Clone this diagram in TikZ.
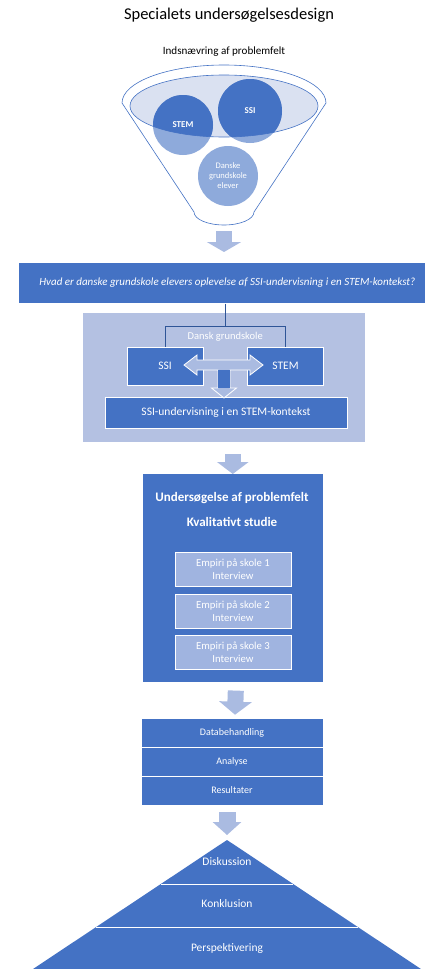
\documentclass[tikz,border=0pt]{standalone}
\usepackage{fontspec}
\setmainfont{Carlito}
\usetikzlibrary{calc,arrows.meta}
\definecolor{accblue}{RGB}{68,114,196}
\definecolor{paleblue}{RGB}{180,193,226}
\definecolor{arrowblue}{RGB}{170,187,225}
\definecolor{cellblue}{RGB}{160,180,224}
\definecolor{rimblue}{RGB}{218,225,241}
\definecolor{linkblue}{RGB}{47,85,151}

\begin{document}
\begin{tikzpicture}[x=1pt,y=-1pt]
  \tikzstyle{mybox}=[draw=white, fill=accblue, text=white, inner sep=0pt, line width=0.6pt, font=\fontsize{11.5}{13.5}\selectfont];
  \tikzstyle{mycell}=[draw=white, fill=cellblue, text=white, align=center, inner sep=0pt, line width=0.6pt, font=\fontsize{10.7}{12.5}\selectfont];
  \tikzstyle{myblob}=[circle, inner sep=0pt, text=white, align=center, fill=accblue, fill opacity=0.6, text opacity=1];
  \tikzstyle{myflow}=[arrowblue, line width=16pt, -{Triangle[width=32pt, length=11pt]}];
  \tikzstyle{mylink}=[linkblue, line width=0.8pt];
  \tikzstyle{mylabel}=[text=white, inner sep=0pt];
  \useasboundingbox (0,0) rectangle (424,969);
  %
  % heading
  \node[font=\fontsize{16.5}{19}\selectfont] (title) at (229,15) {Specialets undersøgelsesdesign};
  \node[font=\fontsize{11.1}{13}\selectfont] (narrow) at (224,52) {Indsnævring af problemfelt};
  %
  % funnel part
  \coordinate (fbot) at (224,225);
  \draw[accblue, line width=0.6pt, fill=white] (122,103)
  arc[start angle=180, end angle=360, x radius=102, y radius=38]
  -- (254,212) arc[start angle=0, end angle=180, x radius=30, y radius=13] -- cycle;
  \draw[accblue, line width=0.6pt, fill=rimblue] (224,106) ellipse[x radius=94, y radius=31];
  \begin{scope}
    \clip (224,106) ellipse[x radius=94, y radius=31];
    \fill[accblue] (183,125) circle[radius=30];
    \fill[accblue] (250,111) circle[radius=32];
  \end{scope}
  \node[myblob, minimum size=60pt, font=\bfseries\fontsize{9}{10}\selectfont] (stemc) at (183,125) {STEM};
  \node[myblob, minimum size=64pt, font=\bfseries\fontsize{9}{10}\selectfont] (ssic) at (250,111) {SSI};
  \node[myblob, minimum size=60pt, font=\fontsize{8.5}{10}\selectfont] (elevc) at (228,176) {Danske\\grundskole\\elever};
  %
  % research question
  \node[mybox, minimum width=418pt, minimum height=41pt, anchor=north west,
  font=\itshape\fontsize{11}{13}\selectfont] (quest) at (18,262) {
    Hvad er danske grundskole elevers oplevelse af SSI-undervisning i en STEM-kontekst?};
  %
  \draw[myflow, -{Triangle[width=34pt, length=10pt]}] ($(fbot)+(0,6)$) -- ($(quest.north -| fbot)+(0,-10)$);
  %
  % field part
  \node[fill=paleblue, minimum width=282pt, minimum height=129pt, anchor=north west] (field) at (83,313) {};
  \node[mybox, minimum width=76pt, minimum height=38pt] (ssi) at (165,366) {SSI};
  \node[mybox, minimum width=76pt, minimum height=38pt] (stem) at (285.5,366) {STEM};
  \node[mybox, minimum width=242pt, minimum height=31pt] (kontekst) at (226,412.5) {
    SSI-undervisning i en STEM-kontekst};
  %
  \coordinate (hub) at ($(ssi.north)!0.5!(stem.north)+(0,-20)$);
  \draw[mylink] (quest.south -| hub) -- (hub);
  \draw[mylink] (ssi.north) |- (hub) -| (stem.north);
  \node[mylabel, font=\fontsize{10.5}{12}\selectfont] (school) at ($(hub)+(0,10)$) {Dansk grundskole};
  %
  % combined arrow between SSI, STEM and the box below
  \coordinate (hubT) at (224,365);
  \draw[white, line width=0.8pt, fill=arrowblue, line join=miter, shift={(hubT)}]
  (-40,0) -- (-27,-10) -- (-27,-5) -- (26,-5) -- (26,-10) -- (39,0) -- (26,10) -- (26,5)
  -- (6,5) -- (6,23) -- (12.5,23) -- (0,33) -- (-12.5,23) -- (-6,23) -- (-6,5)
  -- (-27,5) -- (-27,10) -- cycle;
  \fill[accblue, shift={(hubT)}] (-5.6,5.4) rectangle (5.6,23);
  %
  % study part
  \node[mybox, minimum width=181pt, minimum height=209pt, anchor=north west] (study) at (142,473) {};
  \node[mylabel, font=\bfseries\fontsize{13}{15}\selectfont] (studyhead) at (232,498) {Undersøgelse af problemfelt};
  \node[mylabel, font=\bfseries\fontsize{13}{15}\selectfont] (method) at (232,522) {Kvalitativt studie};
  \foreach \n/\yy in {1/569,2/611,3/652} {
    \node[mycell, minimum width=116pt, minimum height=34pt] (emp\n) at (233,\yy) {Empiri på skole \n\\Interview};
  }
  %
  \draw[myflow, -{Triangle[width=31pt, length=12pt]}] ($(field.south -| study.north)+(0,12)$) -- ($(study.north)+(0,1)$);
  %
  % processing part
  \foreach \nm/\txt/\yy in {datab/Databehandling/732.5, anal/Analyse/761.5, result/Resultater/790.5} {
    \node[mybox, minimum width=182pt, minimum height=29pt, font=\fontsize{10}{12}\selectfont] (\nm) at (232,\yy) {\txt};
  }
  \draw[myflow, -{Triangle[width=32pt, length=13pt]}] ($(study.south)+(3,8)$) -- ($(datab.north)+(3,-3)$);
  %
  % pyramid part
  \coordinate (apex) at (227,840);
  \coordinate (pbl) at (33,969);
  \coordinate (pbr) at (421,969);
  \fill[accblue] (apex) -- (pbr) -- (pbl) -- cycle;
  \draw[white, line width=0.8pt] ($(apex)!0.341!(pbl)$) -- ($(apex)!0.341!(pbr)$);
  \draw[white, line width=0.8pt] ($(apex)!0.674!(pbl)$) -- ($(apex)!0.674!(pbr)$);
  \node[mylabel, font=\fontsize{11.5}{13}\selectfont] (disk) at (227,862) {Diskussion};
  \node[mylabel, font=\fontsize{11.5}{13}\selectfont] (konk) at (227,904) {Konklusion};
  \node[mylabel, font=\fontsize{11.5}{13}\selectfont] (persp) at (227,948) {Perspektivering};
  %
  \draw[myflow, line width=17pt, -{Triangle[width=28pt, length=13pt]}]
  ($(result.south -| apex)+(0,7)$) -- ($(apex)+(0,-5)$);
\end{tikzpicture}
\end{document}
